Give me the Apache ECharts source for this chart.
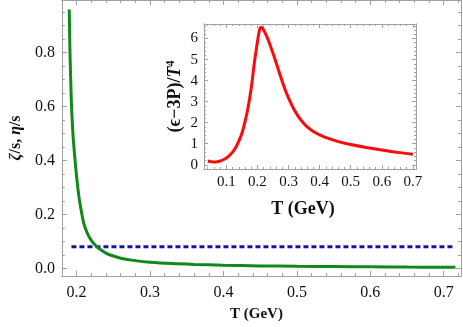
<!DOCTYPE html>
<html>
<head>
<meta charset="utf-8">
<script src="https://cdn.jsdelivr.net/npm/echarts@6/dist/echarts.min.js"></script>
<style>
  html, body { margin: 0; padding: 0; background: #fff; }
  #chart { width: 463px; height: 327px; }
</style>
</head>
<body>
<div id="chart"></div>
<script>
// main panel: zeta/s (green) and eta/s (blue dotted) vs T
var zetaT = [0.19, 0.1905, 0.191, 0.192, 0.193, 0.195, 0.197, 0.2, 0.203, 0.205, 0.21, 0.215, 0.22, 0.225, 0.23, 0.24, 0.25, 0.26, 0.28, 0.3, 0.33, 0.36, 0.4, 0.45, 0.5, 0.55, 0.6, 0.65, 0.7, 0.716];
var zetaS = [0.96, 0.88, 0.8, 0.7, 0.61, 0.5, 0.43, 0.34, 0.27, 0.235, 0.165, 0.128, 0.104, 0.088, 0.075, 0.057, 0.046, 0.038, 0.029, 0.023, 0.018, 0.015, 0.012, 0.0095, 0.008, 0.007, 0.006, 0.0052, 0.0046, 0.0044];
var etaT = [0.193, 0.716];
var etaS = [0.08, 0.08];
var mainXTicks = [0.2, 0.3, 0.4, 0.5, 0.6, 0.7];
var mainXMinor = [0.18, 0.22, 0.24, 0.26, 0.28, 0.32, 0.34, 0.36, 0.38, 0.42, 0.44, 0.46, 0.48, 0.52, 0.54, 0.56, 0.58, 0.62, 0.64, 0.66, 0.68, 0.72];
var mainYTicks = [0, 0.2, 0.4, 0.6, 0.8];
var mainYMinor = [0.05, 0.1, 0.15, 0.25, 0.3, 0.35, 0.45, 0.5, 0.55, 0.65, 0.7, 0.75, 0.85, 0.9, 0.95];

// inset: trace anomaly (e-3P)/T^4 vs T
var anomT = [0.04, 0.05, 0.06, 0.07, 0.08, 0.09, 0.1, 0.11, 0.12, 0.13, 0.14, 0.15, 0.16, 0.17, 0.18, 0.19, 0.2, 0.205, 0.21, 0.215, 0.22, 0.23, 0.24, 0.25, 0.26, 0.27, 0.28, 0.29, 0.3, 0.32, 0.34, 0.36, 0.38, 0.4, 0.43, 0.46, 0.5, 0.55, 0.6, 0.65, 0.7];
var anomV = [0.18, 0.15, 0.13, 0.14, 0.18, 0.24, 0.32, 0.45, 0.6, 0.82, 1.12, 1.5, 2.05, 2.75, 3.65, 4.85, 5.85, 6.3, 6.52, 6.52, 6.4, 6.1, 5.72, 5.3, 4.85, 4.4, 3.95, 3.53, 3.17, 2.57, 2.12, 1.8, 1.58, 1.42, 1.24, 1.1, 0.96, 0.82, 0.7, 0.59, 0.5];
var insetXTicks = [0.1, 0.2, 0.3, 0.4, 0.5, 0.6, 0.7];
var insetXMinor = [0.04, 0.06, 0.08, 0.12, 0.14, 0.16, 0.18, 0.22, 0.24, 0.26, 0.28, 0.32, 0.34, 0.36, 0.38, 0.42, 0.44, 0.46, 0.48, 0.52, 0.54, 0.56, 0.58, 0.62, 0.64, 0.66, 0.68];
var insetYTicks = [0, 1, 2, 3, 4, 5, 6];
var insetYMinor = [0.2, 0.4, 0.6, 0.8, 1.2, 1.4, 1.6, 1.8, 2.2, 2.4, 2.6, 2.8, 3.2, 3.4, 3.6, 3.8, 4.2, 4.4, 4.6, 4.8, 5.2, 5.4, 5.6, 5.8, 6.2, 6.4, 6.6];

var serif = 'Liberation Serif';
var frameColor = '#a0a0a0';

function pairs(xs, ys) {
  return xs.map(function (x, i) { return [x, ys[i]]; });
}

// one frame side: ticks only, no labels unless asked
function side(grid, pos, min, max, ticks, len, labels, extra) {
  var ax = {
    type: 'value', gridIndex: grid, position: pos, min: min, max: max,
    axisLine: { show: true, onZero: false, lineStyle: { color: frameColor, width: 1 } },
    axisTick: { show: true, inside: true, length: len, customValues: ticks, lineStyle: { color: frameColor } },
    axisLabel: { show: !!labels, customValues: ticks, color: '#111', fontFamily: serif },
    splitLine: { show: false }
  };
  if (labels) {
    for (var k in labels) ax.axisLabel[k] = labels[k];
  }
  if (extra) {
    for (var e in extra) ax[e] = extra[e];
  }
  return ax;
}

function oneDec(v) { return v.toFixed(1); }

var chart = echarts.init(document.getElementById('chart'));

var mainX = [0.18, 0.7235];
var mainY = [-0.028, 0.995];
var insX = [0.028, 0.71];
var insY = [-0.2, 6.69];

var xAxes = [
  side(0, 'bottom', mainX[0], mainX[1], mainXTicks, 5, { fontSize: 16, margin: 9, formatter: oneDec }, {
    name: 'T (GeV)', nameLocation: 'middle', nameGap: 31,
    nameTextStyle: { fontFamily: serif, fontWeight: 'bold', fontSize: 15, color: '#111', padding: [0, 10, 0, 0] }
  }),
  side(0, 'bottom', mainX[0], mainX[1], mainXMinor, 3),
  side(0, 'top', mainX[0], mainX[1], mainXTicks, 5),
  side(0, 'top', mainX[0], mainX[1], mainXMinor, 3),
  side(1, 'bottom', insX[0], insX[1], insetXTicks, 4, { fontSize: 15, margin: 6, formatter: oneDec }, {
    name: 'T (GeV)', nameLocation: 'middle', nameGap: 31,
    nameTextStyle: { fontFamily: serif, fontWeight: 'bold', fontSize: 18, color: '#111', padding: [0, 14, 0, 0] }
  }),
  side(1, 'bottom', insX[0], insX[1], insetXMinor, 2),
  side(1, 'top', insX[0], insX[1], insetXTicks, 4),
  side(1, 'top', insX[0], insX[1], insetXMinor, 2)
];

var yAxes = [
  side(0, 'left', mainY[0], mainY[1], mainYTicks, 5, { fontSize: 16, margin: 7, formatter: oneDec }, {
    name: '{i|ζ}{b|/s, }{i|η}{b|/s}', nameLocation: 'middle', nameGap: 33, nameRotate: 90,
    nameTextStyle: {
      fontFamily: serif, fontSize: 16, color: '#111',
      rich: {
        i: { fontFamily: serif, fontSize: 16, fontStyle: 'italic', fontWeight: 'bold', color: '#111' },
        b: { fontFamily: serif, fontSize: 16, fontWeight: 'bold', color: '#111' }
      }
    }
  }),
  side(0, 'left', mainY[0], mainY[1], mainYMinor, 3),
  side(0, 'right', mainY[0], mainY[1], mainYTicks, 5),
  side(0, 'right', mainY[0], mainY[1], mainYMinor, 3),
  side(1, 'left', insY[0], insY[1], insetYTicks, 4, { fontSize: 15, margin: 6 }, {
    name: '{b|(ϵ−3P)/}{i|T}{s|4}', nameLocation: 'middle', nameGap: 19, nameRotate: 90,
    nameTextStyle: {
      fontFamily: serif, fontSize: 18, color: '#111',
      rich: {
        b: { fontFamily: serif, fontSize: 18, fontWeight: 'bold', color: '#111' },
        i: { fontFamily: serif, fontSize: 18, fontStyle: 'italic', fontWeight: 'bold', color: '#111' },
        s: { fontFamily: serif, fontSize: 12, fontWeight: 'bold', color: '#111', verticalAlign: 'top', padding: [0, 0, 8, 0] }
      }
    }
  }),
  side(1, 'left', insY[0], insY[1], insetYMinor, 2),
  side(1, 'right', insY[0], insY[1], insetYTicks, 4),
  side(1, 'right', insY[0], insY[1], insetYMinor, 2)
];

chart.setOption({
  backgroundColor: '#fff',
  animation: false,
  grid: [
    { left: 52, right: 2, top: 0, bottom: 49 },
    { left: 204, right: 47, top: 24, bottom: 158, show: true, backgroundColor: '#fff', borderWidth: 0 }
  ],
  xAxis: xAxes,
  yAxis: yAxes,
  series: [
    {
      type: 'line', xAxisIndex: 0, yAxisIndex: 0, data: pairs(etaT, etaS),
      showSymbol: false, lineStyle: { color: '#1515a5', width: 3, type: [5, 3] }, z: 3
    },
    {
      type: 'line', xAxisIndex: 0, yAxisIndex: 0, data: pairs(zetaT, zetaS),
      showSymbol: false, smooth: 0.3, lineStyle: { color: '#11891a', width: 3 }, z: 4
    },
    {
      type: 'line', xAxisIndex: 4, yAxisIndex: 4, data: pairs(anomT, anomV),
      showSymbol: false, smooth: 0.3, lineStyle: { color: '#ff0a0a', width: 3 }, z: 5
    }
  ]
});

window.addEventListener('resize', function () {
  chart.resize();
});
</script>
</body>
</html>
